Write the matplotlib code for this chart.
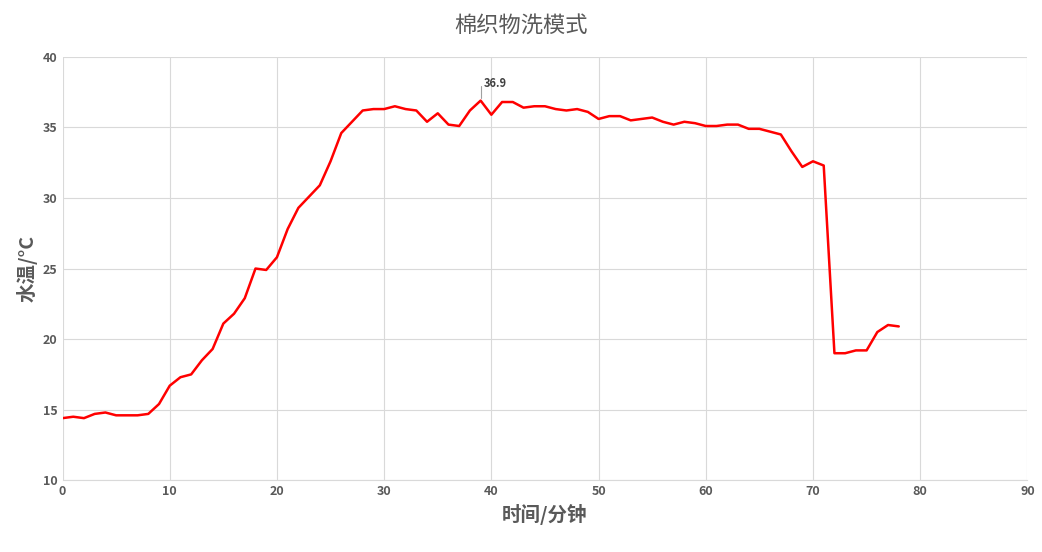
import matplotlib.pyplot as plt

plt.rcParams['font.family'] = ['Noto Sans CJK SC', 'DejaVu Sans']

# Data
minutes = list(range(0, 79))
temps = [14.4, 14.5, 14.4, 14.7, 14.8, 14.6, 14.6, 14.6, 14.7, 15.4,
         16.7, 17.3, 17.5, 18.5, 19.3, 21.1, 21.8, 22.9, 25.0, 24.9,
         25.8, 27.8, 29.3, 30.1, 30.9, 32.6, 34.6, 35.4, 36.2, 36.3,
         36.3, 36.5, 36.3, 36.2, 35.4, 36.0, 35.2, 35.1, 36.2, 36.9,
         35.9, 36.8, 36.8, 36.4, 36.5, 36.5, 36.3, 36.2, 36.3, 36.1,
         35.6, 35.8, 35.8, 35.5, 35.6, 35.7, 35.4, 35.2, 35.4, 35.3,
         35.1, 35.1, 35.2, 35.2, 34.9, 34.9, 34.7, 34.5, 33.3, 32.2,
         32.6, 32.3, 19.0, 19.0, 19.2, 19.2, 20.5, 21.0, 20.9]
peak_x, peak_y = 39, 36.9

fig, ax = plt.subplots(figsize=(10.42, 5.52), dpi=100)
fig.subplots_adjust(left=0.06, right=0.986, top=0.897, bottom=0.13)

ax.plot(minutes, temps, color='#ff0000', linewidth=1.8,
        solid_joinstyle='round', solid_capstyle='round')
ax.annotate(f'{peak_y}', xy=(peak_x, peak_y), xytext=(peak_x + 0.3, peak_y + 1.2),
            fontsize=8, fontweight='bold', color='#404040', va='center',
            arrowprops=dict(arrowstyle='-', color='#a0a0a0', lw=0.8,
                            connectionstyle='angle,angleA=0,angleB=90'))

ax.set_xlim(0, 90)
ax.set_ylim(10, 40)
ax.set_xticks(range(0, 91, 10))
ax.set_yticks(range(10, 41, 5))
ax.grid(True, color='#d9d9d9', linewidth=0.8)
ax.set_axisbelow(True)
for s in ['top', 'right', 'left']:
    ax.spines[s].set_visible(False)
ax.spines['bottom'].set_color('#d9d9d9')
ax.tick_params(length=0, labelsize=9, labelcolor='#595959')
for lbl in ax.get_xticklabels() + ax.get_yticklabels():
    lbl.set_fontweight('bold')

ax.set_xlabel('时间/分钟', fontsize=14, fontweight='bold', color='#595959')
ax.set_ylabel('水温/°C', fontsize=14, fontweight='bold', color='#595959')
fig.suptitle('棉织物洗模式', fontsize=16, color='#595959', y=0.975)

fig.savefig('out.png')
